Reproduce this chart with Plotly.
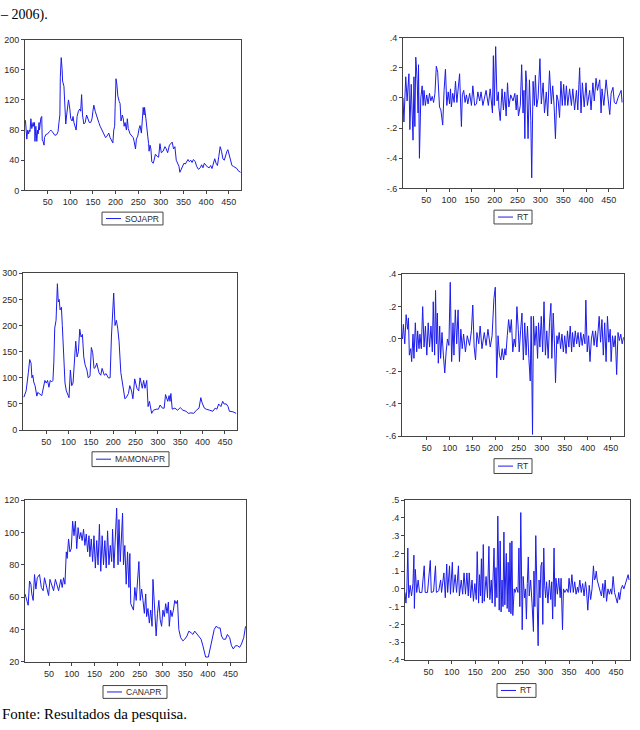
import plotly.graph_objects as go

# ---------------- data ----------------
soja_t = [1,4,6,8,10,11,13,15,18,19,
          21,22,24,26,28,29,31,32,35,37,
          38,40,42,43,46,50,54,57,60,63,
          66,70,73,75,77,78,80,82,83,86,
          88,90,92,94,96,99,101,104,106,108,
          110,113,115,118,121,123,125,127,130,133,
          136,139,142,145,148,150,152,155,158,161,
          163,166,170,172,175,178,181,185,188,191,
          194,196,198,199,201,203,205,208,210,212,
          215,217,219,221,224,226,228,232,236,239,
          241,244,246,249,252,254,257,259,261,263,
          264,267,269,271,273,274,276,278,280,283,
          285,288,292,295,298,301,305,309,312,315,
          319,322,325,328,331,334,337,340,342,345,
          348,351,354,357,360,363,366,369,372,376,
          379,383,387,390,393,396,399,403,407,410,
          413,416,419,422,425,428,431,434,437,440,
          443,446,448,451,454,457,460,464,468,471,
          475,476]
soja_v = [93,68,80,75,80,78,95,82,90,85,
          90,65,85,65,80,75,90,80,96,98,
          67,65,60,70,74,75,78,80,78,75,
          73,74,78,90,100,150,176,160,145,138,
          110,88,100,110,120,108,95,92,98,90,
          85,80,98,105,108,105,127,100,88,90,
          100,95,90,90,95,105,113,105,98,92,
          90,85,80,78,72,70,72,76,70,66,
          63,80,85,110,148,140,125,118,115,92,
          100,95,85,90,80,95,82,75,72,70,
          65,55,68,72,82,86,76,100,110,100,
          110,95,78,72,62,52,60,55,38,36,
          40,48,45,44,62,50,52,58,55,50,
          60,62,64,55,58,40,35,32,24,28,
          32,36,35,38,41,38,40,37,41,38,
          32,28,30,34,30,36,34,31,30,33,
          29,35,42,36,33,45,58,52,42,40,
          48,52,54,46,38,33,32,30,29,26,
          25,24]

mamona_t = [0,5,10,13,16,18,20,22,25,29,
            31,35,40,41,44,47,50,53,56,59,
            62,65,67,69,72,75,77,79,81,84,
            86,89,92,95,99,101,104,107,110,113,
            116,119,122,125,128,131,134,137,141,144,
            148,151,154,157,160,163,168,172,175,180,
            184,189,193,196,201,204,207,210,213,217,
            222,226,229,234,237,241,244,248,253,257,
            260,265,268,271,275,278,281,286,290,296,
            301,305,310,314,317,322,325,327,329,332,
            338,344,350,356,363,368,374,380,386,392,
            396,399,404,408,416,423,428,432,436,441,
            445,448,453,457,460,468,475]
mamona_v = [63,75,110,135,128,100,105,92,85,65,
            72,70,66,70,85,95,90,95,82,95,
            92,95,130,195,210,280,245,250,230,235,
            200,150,90,75,65,62,115,85,90,130,
            170,140,150,193,178,183,140,125,115,100,
            103,158,148,118,120,128,110,105,118,105,
            108,100,100,180,262,200,210,195,170,110,
            80,60,62,70,85,75,60,98,80,75,
            100,80,95,80,95,45,55,32,38,40,
            40,48,42,42,68,55,66,55,70,40,
            42,38,43,38,36,32,33,32,38,42,
            62,52,42,40,38,36,42,40,50,45,
            55,50,50,45,36,35,32]

cana_t = [-3,1,4,7,10,12,15,18,21,24,
          29,33,37,40,45,49,52,57,60,64,
          68,71,76,79,82,85,88,90,93,96,
          99,102,105,108,111,114,117,120,123,126,
          129,132,135,138,140,143,146,149,152,155,
          158,161,164,167,170,173,176,179,182,185,
          188,190,193,196,199,202,204,207,210,212,
          214,217,220,223,226,228,230,233,236,239,
          242,245,248,251,254,257,260,263,265,268,
          271,274,277,279,282,284,286,289,292,295,
          298,301,304,307,310,313,315,318,321,324,
          327,330,333,336,340,345,349,354,358,363,
          367,371,376,380,385,389,392,395,401,405,
          410,414,418,423,427,430,434,439,443,448,
          452,456,461,465,470,474,479,483]
cana_v = [62,58,55,70,68,62,58,74,65,72,
          74,66,64,72,66,61,71,66,64,71,
          66,64,71,66,72,68,88,84,96,88,
          90,107,98,107,90,103,96,100,95,102,
          92,99,88,98,85,96,82,98,78,95,
          80,105,76,98,80,95,78,101,80,92,
          82,102,78,96,115,80,108,82,96,112,
          80,92,68,88,66,87,56,54,52,66,
          58,70,82,58,65,58,50,62,48,53,
          44,52,42,71,55,42,36,50,58,46,
          42,52,48,56,50,57,42,52,48,52,
          58,56,58,40,35,33,34,36,39,38,
          37,39,37,36,34,30,26,23,23,28,
          36,40,42,41,41,36,34,34,37,35,
          30,28,30,30,29,31,35,42]

rt1_t = [-1,1,5,8,12,14,17,21,23,25,
         27,30,32,33,35,38,41,43,45,48,
         51,54,57,60,63,66,69,72,75,77,
         79,82,86,89,92,95,98,101,103,105,
         108,111,114,117,120,123,127,129,132,135,
         138,141,145,149,152,156,160,163,167,170,
         174,178,181,186,190,195,197,199,202,205,
         208,209,212,216,219,222,225,228,231,235,
         240,244,247,249,252,256,259,262,264,266,
         268,270,273,276,279,281,284,287,289,292,
         295,299,302,306,309,313,316,320,324,327,
         330,333,336,339,342,345,348,351,354,357,
         360,364,368,371,375,379,382,386,389,392,
         396,400,403,408,411,415,418,422,425,430,
         433,435,439,444,448,452,455,459,462,466,
         470,473,477,479]
rt1_v = [0.0,-0.16,0.14,-0.02,0.16,-0.21,0.09,-0.28,0.14,-0.19,
         0.27,0.12,-0.1,0.22,-0.4,0.0,0.08,-0.05,0.05,-0.05,
         0.02,-0.04,0.03,-0.02,0.01,-0.03,0.03,0.21,0.17,0.0,
         -0.06,-0.08,-0.18,0.05,0.19,-0.05,0.04,-0.04,0.06,-0.06,
         0.03,-0.03,0.11,-0.03,0.05,0.16,-0.19,0.02,0.05,-0.03,
         0.02,-0.04,0.03,-0.05,0.08,-0.05,-0.04,0.04,-0.02,0.04,
         -0.05,0.02,0.05,-0.05,0.06,-0.1,0.28,-0.05,0.34,-0.02,
         0.04,-0.06,-0.15,0.06,-0.08,0.04,-0.12,0.1,-0.06,0.02,
         -0.02,0.03,-0.08,0.02,-0.12,-0.05,0.22,-0.1,0.05,-0.27,
         0.18,0.1,-0.27,0.12,-0.15,-0.53,0.11,-0.05,0.15,-0.06,
         0.0,0.26,-0.04,0.1,-0.1,0.04,-0.12,0.18,-0.04,0.08,
         -0.05,-0.27,0.02,-0.02,-0.13,0.11,-0.05,0.09,-0.05,0.08,
         -0.05,0.06,-0.05,0.06,-0.08,0.05,-0.08,0.2,-0.1,0.1,
         -0.06,0.1,-0.05,0.05,-0.08,0.1,-0.02,0.13,0.05,0.12,
         -0.1,0.06,-0.05,0.12,-0.02,-0.11,0.03,0.07,-0.03,-0.04,
         0.0,0.02,0.05,-0.03]

rt2_t = [-3,-1,2,5,8,10,12,15,17,20,
         22,25,28,30,33,35,38,41,44,47,
         50,53,56,59,62,64,67,69,71,73,
         75,78,80,83,86,89,92,95,98,101,
         104,107,109,112,115,118,121,124,127,130,
         134,138,143,147,150,153,156,159,163,166,
         170,175,179,183,188,192,196,199,202,205,
         208,211,214,217,220,222,225,228,231,234,
         237,240,243,246,249,251,254,257,260,263,
         266,269,272,275,277,280,282,285,288,291,
         293,296,299,302,305,308,311,314,317,320,
         322,325,328,330,333,335,338,341,344,347,
         350,353,356,359,362,365,367,370,373,376,
         379,382,385,388,391,394,396,399,402,405,
         408,411,414,417,420,423,425,428,431,434,
         437,440,443,446,449,451,454,457,460,463,
         466,469,472,475,478]
rt2_v = [0.0,0.09,-0.03,0.15,0.06,0.13,-0.1,-0.06,-0.14,0.03,
         -0.12,0.1,-0.08,0.05,-0.06,0.03,-0.06,0.2,-0.05,0.08,
         -0.1,0.1,-0.05,0.08,-0.08,0.23,-0.1,0.3,-0.03,0.16,
         -0.15,0.08,-0.12,0.04,-0.1,-0.21,-0.08,0.0,-0.04,0.35,
         -0.14,0.1,-0.1,0.18,-0.03,0.18,-0.14,0.06,-0.06,0.03,
         -0.08,0.02,-0.04,0.05,0.21,-0.05,-0.13,0.04,-0.03,0.08,
         -0.06,0.04,-0.04,0.06,-0.05,0.02,0.25,0.32,-0.24,0.02,
         -0.1,-0.13,-0.06,-0.13,-0.06,-0.1,0.02,0.12,0.04,0.12,
         -0.08,0.0,-0.05,0.2,0.06,-0.08,0.05,0.16,-0.13,0.1,
         -0.1,0.08,-0.12,-0.26,0.14,-0.59,0.14,-0.04,0.08,-0.12,
         0.1,-0.05,0.14,-0.08,0.23,-0.1,0.05,-0.12,0.1,0.22,
         -0.12,0.16,-0.05,-0.27,0.02,-0.03,0.04,-0.06,0.03,-0.08,
         0.02,-0.09,0.05,-0.05,0.08,-0.08,0.04,-0.05,0.05,-0.03,
         0.04,-0.05,0.04,-0.04,0.03,-0.03,0.24,-0.08,0.02,-0.14,
         0.0,0.05,-0.04,0.05,-0.05,0.05,0.14,-0.02,0.12,-0.1,
         0.1,-0.14,0.14,-0.02,0.06,-0.14,0.02,-0.05,0.02,-0.22,
         0.04,-0.01,0.03,-0.03,0.01]

rt3_t = [0,2,4,6,8,11,14,17,19,20,
         22,25,28,31,36,41,43,48,54,56,
         61,65,67,72,76,78,83,86,89,91,
         95,97,101,103,107,110,114,116,120,123,
         126,129,132,135,137,140,143,146,149,152,
         154,157,159,161,163,165,167,169,173,176,
         179,181,184,186,190,192,194,196,198,201,
         203,205,207,209,211,213,216,218,220,222,
         224,226,228,230,233,235,238,241,243,245,
         247,250,252,255,257,259,261,263,265,268,
         271,274,275,277,279,282,284,286,288,290,
         292,294,296,298,300,302,305,308,311,313,
         315,318,320,322,325,328,331,333,336,338,
         341,345,348,350,353,356,359,362,365,368,
         370,373,376,379,382,385,387,390,393,396,
         399,402,404,406,408,410,413,416,419,422,
         424,427,430,433,436,439,441,444,447,450,
         453,456,458,461,464,467,470,473,476,478]
rt3_v = [-0.02,-0.08,0.0,0.23,-0.05,0.02,-0.04,0.03,0.19,-0.11,
         0.11,-0.02,0.05,-0.02,-0.02,0.13,-0.02,-0.02,0.16,-0.02,
         -0.015,0.13,-0.02,-0.01,0.05,-0.02,0.09,-0.05,0.14,-0.02,
         0.13,-0.03,0.15,-0.02,0.08,-0.02,0.13,-0.04,0.05,-0.03,
         0.09,-0.03,0.09,-0.04,0.09,-0.05,0.05,-0.07,0.03,-0.06,
         0.21,-0.08,0.08,-0.04,0.17,-0.08,0.25,-0.07,0.07,-0.05,
         0.24,-0.06,0.05,-0.08,0.23,-0.1,0.12,-0.05,0.41,-0.12,
         0.27,-0.13,0.05,-0.1,0.32,-0.09,0.2,-0.11,0.15,-0.13,
         0.26,-0.14,0.27,-0.15,0.0,-0.02,0.01,-0.02,0.23,-0.1,
         0.43,-0.23,0.07,-0.05,0.0,-0.17,0.03,0.18,-0.04,0.05,
         -0.08,-0.24,0.1,-0.1,0.3,0.0,-0.32,0.05,-0.05,0.13,
         0.15,-0.2,0.23,0.02,-0.05,0.04,-0.08,0.05,-0.06,0.04,
         -0.17,0.23,-0.1,0.06,-0.03,0.06,-0.05,0.06,-0.23,0.0,
         -0.02,0.0,-0.02,0.06,-0.02,0.08,-0.02,0.04,-0.03,0.01,
         -0.02,0.05,-0.02,0.03,-0.04,0.04,0.0,-0.12,0.02,-0.06,
         0.0,0.13,0.05,0.06,0.1,0.05,0.02,0.0,-0.04,0.03,
         -0.05,0.05,-0.07,0.0,-0.03,0.0,-0.03,0.07,-0.02,-0.05,
         -0.08,-0.02,-0.06,0.0,0.02,0.0,0.03,0.05,0.08,0.05]

x_ticks = [50, 100, 150, 200, 250, 300, 350, 400, 450]

# ---------------- layout ----------------
W, H = 640, 730
LINE = "rgb(28,28,235)"
AX = "#444444"
TXT = "#2a2a2a"
SANS = "Liberation Sans, Arial, sans-serif"
SERIF = "Liberation Serif, Times New Roman, serif"

panels = [
    dict(t=soja_t, v=soja_v, name="SOJAPR", box=(25, 241, 35, 188), xr=[0, 477],
         yt=[0, 40, 80, 120, 160, 200], ytt=["0", "40", "80", "120", "160", "200"],
         yr=[0, 200], leg=(102, 163, 210, 223)),
    dict(t=rt1_t, v=rt1_v, name="RT", box=(403, 623, 33, 186), xr=[-1, 481],
         yt=[-0.6, -0.4, -0.2, 0.0, 0.2, 0.4], ytt=["-.6", "-.4", "-.2", ".0", ".2", ".4"],
         yr=[-0.6, 0.4], leg=(494, 532, 208, 222)),
    dict(t=mamona_t, v=mamona_v, name="MAMONAPR", box=(23, 237, 272, 431), xr=[-2, 477],
         yt=[0, 50, 100, 150, 200, 250, 300], ytt=["0", "50", "100", "150", "200", "250", "300"],
         yr=[0, 300], leg=(92, 169, 453, 468)),
    dict(t=rt2_t, v=rt2_v, name="RT", box=(402, 624, 273, 437), xr=[-4, 479],
         yt=[-0.6, -0.4, -0.2, 0.0, 0.2, 0.4], ytt=["-.6", "-.4", "-.2", ".0", ".2", ".4"],
         yr=[-0.6, 0.4], leg=(494, 532, 460, 475)),
    dict(t=cana_t, v=cana_v, name="CANAPR", box=(25, 246, 502, 666), xr=[-3, 484],
         yt=[20, 40, 60, 80, 100, 120], ytt=["20", "40", "60", "80", "100", "120"],
         yr=[20, 120], leg=(103, 167, 690, 703)),
    dict(t=rt3_t, v=rt3_v, name="RT", box=(405, 630, 502, 664), xr=[0, 480],
         yt=[-0.4, -0.3, -0.2, -0.1, 0.0, 0.1, 0.2, 0.3, 0.4, 0.5],
         ytt=["-.4", "-.3", "-.2", "-.1", ".0", ".1", ".2", ".3", ".4", ".5"],
         yr=[-0.4, 0.5], leg=(497, 536, 688, 702)),
]

def fx(px):
    return px / W

def fy(py):
    return 1 - py / H

fig = go.Figure()
shapes = []
annotations = []
layout_axes = {}

for i, p in enumerate(panels, start=1):
    assert len(p["t"]) == len(p["v"]), (p["name"], len(p["t"]), len(p["v"]))
    sfx = "" if i == 1 else str(i)
    fig.add_trace(go.Scatter(x=p["t"], y=p["v"], mode="lines",
                             line=dict(color=LINE, width=1),
                             xaxis="x" + sfx, yaxis="y" + sfx,
                             showlegend=False, hoverinfo="skip"))
    x0, x1, y0, y1 = p["box"]
    common = dict(showline=True, mirror=True, linecolor=AX, linewidth=1,
                  showgrid=False, zeroline=False, ticks="outside", ticklen=3,
                  tickwidth=1, tickcolor=AX,
                  tickfont=dict(family=SANS, size=9, color=TXT))
    layout_axes["xaxis" + sfx] = dict(common, domain=[fx(x0), fx(x1)], range=p["xr"],
                                      tickvals=x_ticks, anchor="y" + sfx)
    layout_axes["yaxis" + sfx] = dict(common, domain=[fy(y1), fy(y0)], range=p["yr"],
                                      tickvals=p["yt"], ticktext=p["ytt"], anchor="x" + sfx)
    # legend box drawn as shapes + text
    lx0, lx1, ly0, ly1 = p["leg"]
    ym = (ly0 + ly1) / 2
    shapes.append(dict(type="rect", xref="paper", yref="paper",
                       x0=fx(lx0), x1=fx(lx1), y0=fy(ly1), y1=fy(ly0),
                       line=dict(color=AX, width=1), fillcolor="white"))
    shapes.append(dict(type="line", xref="paper", yref="paper",
                       x0=fx(lx0 + 4), x1=fx(lx0 + 19), y0=fy(ym), y1=fy(ym),
                       line=dict(color=LINE, width=1)))
    annotations.append(dict(text=p["name"], xref="paper", yref="paper",
                            x=fx(lx0 + 21), y=fy(ym), xanchor="left", yanchor="middle",
                            showarrow=False, font=dict(family=SANS, size=8.5, color=TXT)))

annotations.append(dict(text="– 2006).", xref="paper", yref="paper", x=fx(-2), y=fy(0),
                        xanchor="left", yanchor="top", showarrow=False,
                        font=dict(family=SERIF, size=14, color="black")))
annotations.append(dict(text="Fonte: Resultados da pesquisa.", xref="paper", yref="paper",
                        x=fx(0), y=fy(719), xanchor="left", yanchor="middle",
                        showarrow=False, font=dict(family=SERIF, size=15, color="black")))

fig.update_layout(width=W, height=H, margin=dict(l=0, r=0, t=0, b=0),
                  paper_bgcolor="white", plot_bgcolor="white",
                  showlegend=False, shapes=shapes, annotations=annotations,
                  **layout_axes)

fig.write_html("out.html")
